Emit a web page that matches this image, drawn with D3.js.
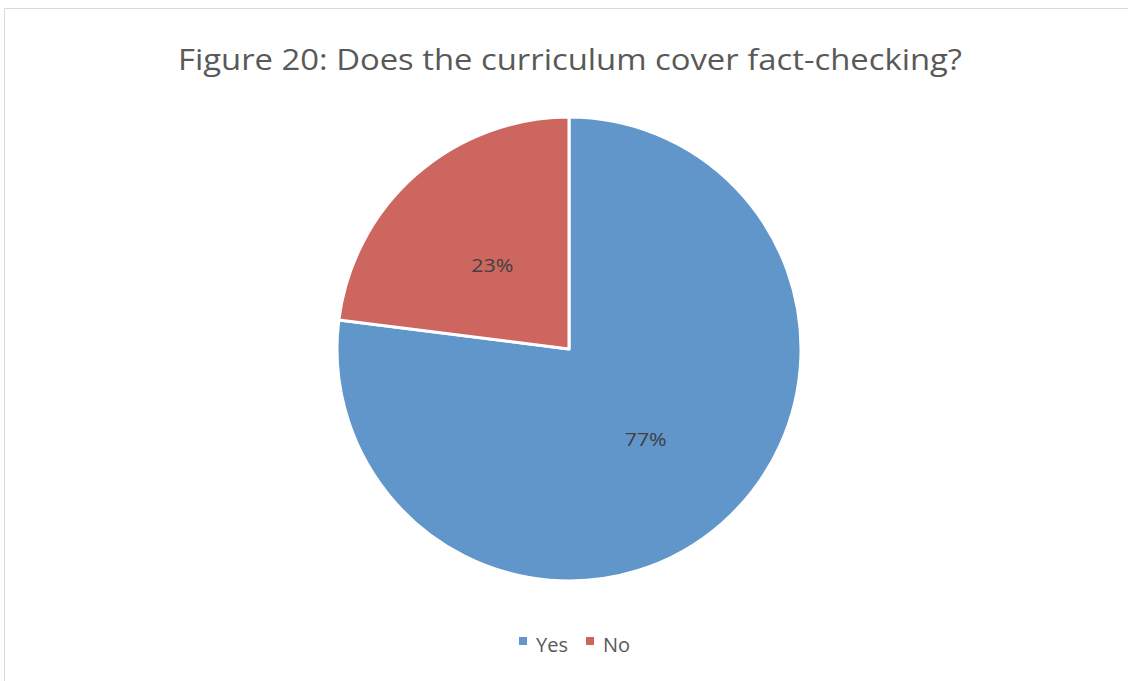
<!DOCTYPE html>
<html><head><meta charset="utf-8">
<script src="https://cdn.jsdelivr.net/npm/d3@7"></script>
<style>body{margin:0;background:#fff;} svg{display:block;}</style>
</head><body>
<svg id="c" width="1128" height="681"></svg>
<script>
const categories = ["Yes", "No"];
const values = [77, 23];
const labels = ["77%", "23%"];
const colors = ["#6096CA", "#CC665F"];
const title = "Figure 20: Does the curriculum cover fact-checking?";

const svg = d3.select("#c");
// chart border
svg.append("path").attr("d","M4.5,690 L4.5,8.5 L1140,8.5").attr("fill","none").attr("stroke","#d9d9d9").attr("stroke-width",1);

const t = svg.append("text").attr("x",570).attr("y",70).attr("text-anchor","middle")
  .attr("font-family","'Open Sans', sans-serif").attr("font-size",30).attr("fill","#595959").text(title);
t.attr("textLength",784).attr("lengthAdjust","spacingAndGlyphs");

const cx = 569, cy = 349, r = 232;
const pie = d3.pie().sort(null).value(d=>d)(values);
const arc = d3.arc().innerRadius(0).outerRadius(r);
const g = svg.append("g").attr("transform",`translate(${cx},${cy})`);
g.selectAll("path").data(pie).join("path").attr("d",arc)
  .attr("fill",(d,i)=>colors[i]).attr("stroke","#fff").attr("stroke-width",3).attr("stroke-linejoin","round");
const la = d3.arc().innerRadius(r*0.5).outerRadius(r*0.5);
g.selectAll("text").data(pie).join("text")
  .attr("transform",(d,i)=>{const c=la.centroid(d);return `translate(${c[0]},${c[1]+3})`;})
  .attr("text-anchor","middle").attr("dy","0.35em")
  .attr("font-family","'Open Sans', sans-serif").attr("font-size",19).attr("fill","#404040")
  .attr("textLength",(d,i)=>42).attr("lengthAdjust","spacingAndGlyphs")
  .text((d,i)=>labels[i]);

// legend
const leg = svg.append("g");
const items = [{x:519},{x:586}];
categories.forEach((c,i)=>{
  leg.append("rect").attr("x",items[i].x).attr("y",637).attr("width",8).attr("height",8).attr("fill",colors[i]);
  leg.append("text").attr("x",items[i].x+17).attr("y",652).attr("font-family","'Open Sans', sans-serif")
    .attr("font-size",20).attr("fill","#595959").text(c);
});
</script>
</body></html>
